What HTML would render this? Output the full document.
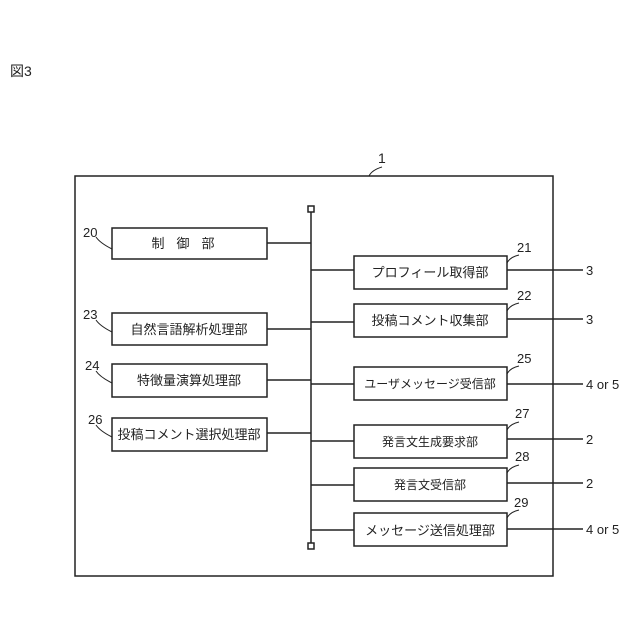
<!DOCTYPE html>
<html><head><meta charset="utf-8"><style>
html,body{margin:0;padding:0;background:#fff;}
svg{display:block;}
text{font-family:"Liberation Sans","Noto Sans CJK JP",sans-serif;fill:#222;}
</style></head><body>
<svg width="640" height="640" viewBox="0 0 640 640" xmlns="http://www.w3.org/2000/svg">
<g stroke="#222" stroke-width="1.5" fill="none">
<rect x="75" y="176" width="478" height="400"/>
<line x1="311" y1="212" x2="311" y2="543"/>
<rect x="308" y="206" width="6" height="6" fill="#fff"/>
<rect x="308" y="543" width="6" height="6" fill="#fff"/>
<!-- left boxes -->
<rect x="112" y="228" width="155" height="31"/>
<rect x="112" y="313" width="155" height="32"/>
<rect x="112" y="364" width="155" height="33"/>
<rect x="112" y="418" width="155" height="33"/>
<line x1="267" y1="243" x2="311" y2="243"/>
<line x1="267" y1="329" x2="311" y2="329"/>
<line x1="267" y1="380" x2="311" y2="380"/>
<line x1="267" y1="433" x2="311" y2="433"/>
<!-- right boxes -->
<rect x="354" y="256" width="153" height="33"/>
<rect x="354" y="304" width="153" height="33"/>
<rect x="354" y="367" width="153" height="33"/>
<rect x="354" y="425" width="153" height="33"/>
<rect x="354" y="468" width="153" height="33"/>
<rect x="354" y="513" width="153" height="33"/>
<line x1="311" y1="270" x2="354" y2="270"/>
<line x1="311" y1="322" x2="354" y2="322"/>
<line x1="311" y1="384" x2="354" y2="384"/>
<line x1="311" y1="441" x2="354" y2="441"/>
<line x1="311" y1="485" x2="354" y2="485"/>
<line x1="311" y1="530" x2="354" y2="530"/>
<line x1="507" y1="270" x2="583" y2="270"/>
<line x1="507" y1="319" x2="583" y2="319"/>
<line x1="507" y1="384" x2="583" y2="384"/>
<line x1="507" y1="439" x2="583" y2="439"/>
<line x1="507" y1="483" x2="583" y2="483"/>
<line x1="507" y1="529" x2="583" y2="529"/>
<!-- leaders -->
<path d="M96 237 q4 6 16 12" stroke-width="1"/>
<path d="M96 320 q4 6 16 12" stroke-width="1"/>
<path d="M96 371 q4 6 16 12" stroke-width="1"/>
<path d="M96 425 q4 6 16 12" stroke-width="1"/>
<path d="M507 263 q3 -6 12 -8" stroke-width="1"/>
<path d="M507 311 q3 -6 12 -8" stroke-width="1"/>
<path d="M507 374 q3 -6 12 -8" stroke-width="1"/>
<path d="M507 430 q3 -6 12 -8" stroke-width="1"/>
<path d="M507 473 q3 -6 12 -8" stroke-width="1"/>
<path d="M507 518 q3 -6 12 -8" stroke-width="1"/>
<path d="M369 176 q3 -6 13 -9" stroke-width="1"/>
</g>
<g font-size="14">
<text x="10" y="76">図3</text>
<text x="378" y="163">1</text>
<text x="83" y="237" font-size="13">20</text>
<text x="83" y="319" font-size="13">23</text>
<text x="85" y="370" font-size="13">24</text>
<text x="88" y="424" font-size="13">26</text>
<text x="517" y="252" font-size="13">21</text>
<text x="517" y="300" font-size="13">22</text>
<text x="517" y="363" font-size="13">25</text>
<text x="515" y="418" font-size="13">27</text>
<text x="515" y="461" font-size="13">28</text>
<text x="514" y="507" font-size="13">29</text>
<text x="189" y="248" text-anchor="middle" font-size="13" letter-spacing="12">制御部</text>
<text x="189" y="334" text-anchor="middle" font-size="13">自然言語解析処理部</text>
<text x="189" y="385" text-anchor="middle" font-size="13">特徴量演算処理部</text>
<text x="189" y="439" text-anchor="middle" font-size="13">投稿コメント選択処理部</text>
<text x="430" y="277" text-anchor="middle" font-size="13">プロフィール取得部</text>
<text x="430" y="325" text-anchor="middle" font-size="13">投稿コメント収集部</text>
<text x="430" y="388" text-anchor="middle" font-size="12">ユーザメッセージ受信部</text>
<text x="430" y="446" text-anchor="middle" font-size="12">発言文生成要求部</text>
<text x="430" y="489" text-anchor="middle" font-size="12">発言文受信部</text>
<text x="430" y="535" text-anchor="middle" font-size="13">メッセージ送信処理部</text>
<text x="586" y="275" font-size="13">3</text>
<text x="586" y="324" font-size="13">3</text>
<text x="586" y="389" font-size="13">4 or 5</text>
<text x="586" y="444" font-size="13">2</text>
<text x="586" y="488" font-size="13">2</text>
<text x="586" y="534" font-size="13">4 or 5</text>
</g>
</svg>
</body></html>
